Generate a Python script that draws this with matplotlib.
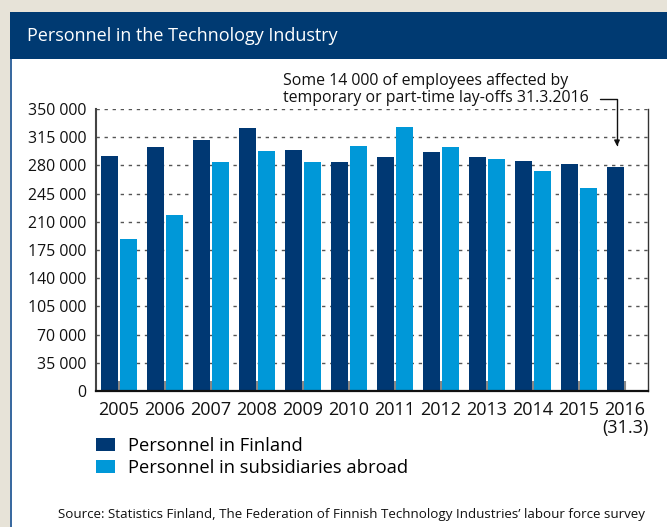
import matplotlib
matplotlib.use("Agg")
import matplotlib.pyplot as plt
from matplotlib.patches import Rectangle
from matplotlib.ticker import FuncFormatter
import numpy as np

# ---------- data ----------
years = ['2005', '2006', '2007', '2008', '2009', '2010', '2011', '2012',
         '2013', '2014', '2015', '2016\n(31.3)']
personnel_finland = [292000, 303000, 311500, 326000, 299000, 284000, 290500,
                     296500, 290500, 285500, 282000, 278000]
personnel_abroad = [189000, 218500, 284000, 298000, 284000, 304000, 327500,
                    303000, 288000, 273000, 252000]
y_ticks = [0, 35000, 70000, 105000, 140000, 175000, 210000, 245000,
           280000, 315000, 350000]

dark_blue = '#003873'
light_blue = '#0098d8'
beige = '#e7e3d8'

plt.rcParams['font.family'] = ['Open Sans', 'DejaVu Sans']

W, H = 667, 527
fig = plt.figure(figsize=(W / 100, H / 100), dpi=100)
fig.patch.set_facecolor(beige)

# ---------- frame: white panel, blue header ----------
fig.patches.append(Rectangle((10 / W, 0), 1, 1 - 12 / H, transform=fig.transFigure,
                             facecolor='white', edgecolor='none', zorder=-10))
fig.patches.append(Rectangle((10 / W, 0), 2 / W, 1 - 12 / H, transform=fig.transFigure,
                             facecolor='#3a6aa0', edgecolor='none', zorder=-9))
fig.patches.append(Rectangle((10 / W, 1 - 59 / H), 1, 47 / H, transform=fig.transFigure,
                             facecolor='#003a72', edgecolor='none', zorder=-9))
fig.text(27 / W, 1 - 36 / H, 'Personnel in the Technology Industry', color='white',
         fontsize=13, va='center', ha='left')

# ---------- chart ----------
ax = fig.add_axes([96 / W, 1 - 391 / H, (648 - 96) / W, (391 - 109) / H])
ax.set_facecolor('white')

x = np.arange(len(years))
w = 0.37
off = 0.205
ax.bar(x - off, personnel_finland, width=w, color=dark_blue,
       label='Personnel in Finland', zorder=3)
ax.bar(x[:len(personnel_abroad)] + off, personnel_abroad, width=w, color=light_blue,
       label='Personnel in subsidiaries abroad', zorder=3)

ax.set_xlim(-0.5, len(years) - 0.5)
ax.set_ylim(0, 350000)
ax.set_yticks(y_ticks)
ax.yaxis.set_major_formatter(FuncFormatter(lambda v, p: f'{int(v):,}'.replace(',', ' ')))
ax.set_xticks(x)
ax.set_xticklabels(years, fontsize=13, color='#111111', linespacing=1.05)

ax.grid(axis='y', linestyle=(0, (2.4, 3.4)), color='#555555', linewidth=1.0, zorder=1)
ax.tick_params(axis='y', length=0, pad=7, labelsize=11.4, labelcolor='#111111')
ax.tick_params(axis='x', direction='in', length=7, width=1.5, color='#888888', pad=7)

ax.spines['top'].set_visible(False)
ax.spines['left'].set_color('#444444')
ax.spines['left'].set_linewidth(1.5)
ax.spines['right'].set_color('#333333')
ax.spines['right'].set_linewidth(1.0)
ax.spines['bottom'].set_color('#111111')
ax.spines['bottom'].set_linewidth(1.6)
ax.spines['bottom'].set_zorder(4)

# ---------- annotation ----------
fig.text(283 / W, 1 - 106 / H,
         'Some 14 000 of employees affected by\ntemporary or part-time lay-offs 31.3.2016',
         fontsize=11.4, color='#111111', ha='left', va='bottom', linespacing=1.1)
ax.annotate('', xy=(10.826, 304000), xytext=(10.46, 362500),
            arrowprops=dict(arrowstyle='-|>', color='#111111', lw=1.0,
                            shrinkA=0, shrinkB=0, mutation_scale=8,
                            connectionstyle='angle,angleA=0,angleB=90,rad=0'),
            annotation_clip=False)

# ---------- legend ----------
handles, labels = ax.get_legend_handles_labels()
fig.legend(handles, labels, loc='upper left', bbox_to_anchor=(96 / W, 1 - 437 / H),
           frameon=False, fontsize=13.2, handlelength=1.04, handleheight=0.7,
           handletextpad=0.7, labelspacing=0.2, borderpad=0, borderaxespad=0)

# ---------- source ----------
fig.text(58 / W, 1 - 518 / H,
         'Source: Statistics Finland, The Federation of Finnish Technology Industries\u2019 labour force survey',
         fontsize=9.6, color='#111111', ha='left', va='baseline')

fig.savefig('out.png', dpi=100, facecolor=fig.get_facecolor())
